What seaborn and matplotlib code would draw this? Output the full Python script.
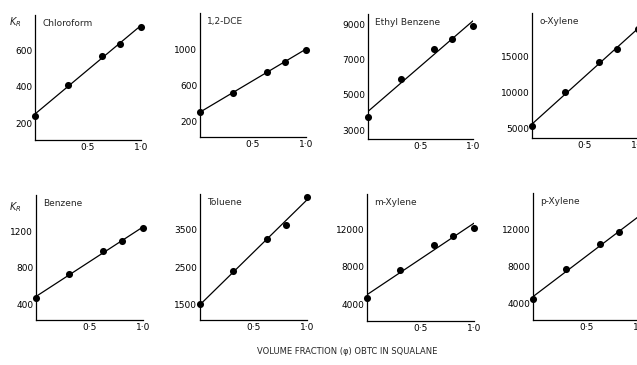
import numpy as np
import pandas as pd
import seaborn as sns
import matplotlib.pyplot as plt

# 부피 분율 (phi) - 모든 패널 공통
phi = [0.0, 0.31, 0.63, 0.80, 1.0]

# 각 용질의 K_R 값
names = ['Chloroform', '1,2-DCE', 'Ethyl Benzene', 'o-Xylene',
         'Benzene', 'Toluene', 'm-Xylene', 'p-Xylene']
chloroform = [238, 411, 567, 635, 726]
dce = [303, 520, 754, 861, 997]
ethyl_benzene = [3756, 5909, 7608, 8193, 8900]
o_xylene = [5363, 10050, 14218, 16075, 18800]
benzene = [473, 737, 983, 1093, 1244]
toluene = [1500, 2384, 3258, 3634, 4395]
m_xylene = [4645, 7645, 10333, 11355, 12183]
p_xylene = [4538, 7750, 10409, 11710, 13300]
values = [chloroform, dce, ethyl_benzene, o_xylene,
          benzene, toluene, m_xylene, p_xylene]

# y축 눈금
yticks = [[200, 400, 600], [200, 600, 1000], [3000, 5000, 7000, 9000],
          [5000, 10000, 15000], [400, 800, 1200], [1500, 2500, 3500],
          [4000, 8000, 12000], [4000, 8000, 12000]]

sns.set_style('white')
plt.rcParams['font.family'] = ['DejaVu Sans']

W, H = 637, 365
fig = plt.figure(figsize=(W / 100, H / 100), dpi=100)

# 패널 위치 (픽셀: left, right, top, bottom) 과 y 범위
boxes = [(35, 141, 15, 140), (200, 306, 13, 137), (368, 473, 14, 139), (532, 638, 13, 138),
         (36, 143, 195, 320), (200, 307, 194, 320), (367, 474, 194, 321), (533, 640, 193, 320)]
ylims = [(107, 792), (31, 1400), (2490, 9585), (3690, 21060),
         (227, 1604), (1078, 4465), (2200, 15840), (2280, 15870)]

for i in range(8):
    l, r, t, b = boxes[i]
    ax = fig.add_axes([l / W, 1 - b / H, (r - l) / W, (b - t) / H])
    df = pd.DataFrame({'phi': phi, 'k': values[i]})
    sns.regplot(data=df, x='phi', y='k', ci=None, color='black', ax=ax,
                scatter_kws={'s': 26, 'clip_on': False, 'linewidths': 0, 'alpha': 1},
                line_kws={'lw': 0.9})
    ax.set_xlim(0, 1.0)
    ax.set_ylim(*ylims[i])
    ax.set_xticks([0.5, 1.0])
    ax.set_xticklabels(['0·5', '1·0'])
    ax.set_yticks(yticks[i])
    ax.set_yticklabels([str(v) for v in yticks[i]])
    ax.tick_params(axis='both', direction='in', length=3, width=0.8,
                   labelsize=6.5, pad=2, colors='black')
    ax.set_xlabel('')
    ax.set_ylabel('')
    for s in ['top', 'right']:
        ax.spines[s].set_visible(False)
    for s in ['left', 'bottom']:
        ax.spines[s].set_color('black')
        ax.spines[s].set_linewidth(0.9)
    ax.text(0.07, 0.93, names[i], transform=ax.transAxes, fontsize=6.5,
            ha='left', va='center')

# K_R 라벨
fig.text(15 / W, 1 - 22 / H, '$K_R$', fontsize=7, ha='center', va='center')
fig.text(15 / W, 1 - 207 / H, '$K_R$', fontsize=7, ha='center', va='center')

# 공통 x축 제목
fig.text(347 / W, 1 - 351 / H, 'VOLUME FRACTION (φ) OBTC IN SQUALANE',
         fontsize=6, ha='center', va='center')

plt.savefig('out.png', dpi=100)
plt.close()
